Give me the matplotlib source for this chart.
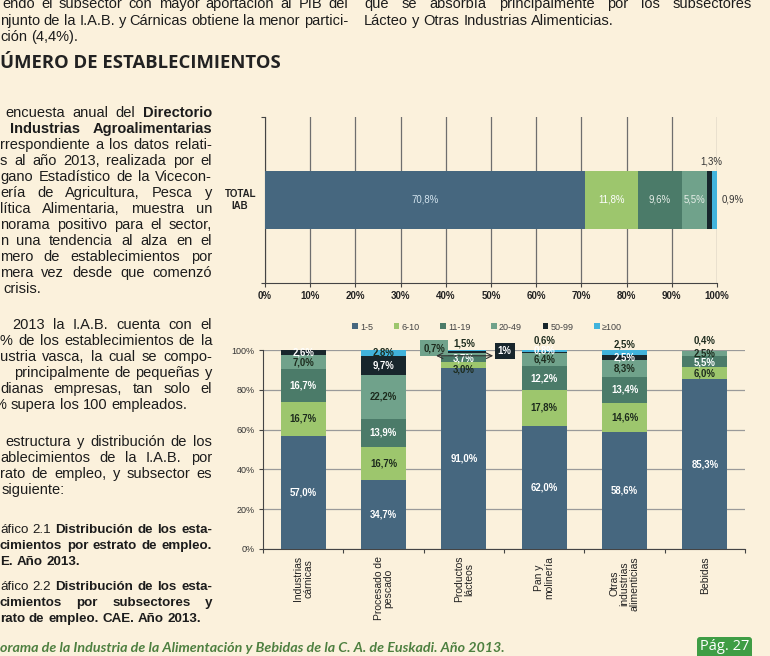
import os
import matplotlib
matplotlib.use('Agg')
import matplotlib.pyplot as plt
from matplotlib import font_manager as fm
from matplotlib.patches import FancyBboxPatch
import numpy as np

# ---------------- data ----------------
strata = ['1-5', '6-10', '11-19', '20-49', '50-99', '≥100']
total_iab = [70.8, 11.8, 9.6, 5.5, 1.3, 0.9]
subsectors = ['Industrias\ncárnicas', 'Procesado de\npescado', 'Productos\nlácteos',
              'Pan y\nmolinería', 'Otras\nindustrias\nalimenticias', 'Bebidas']
est_1_5 = [57.0, 34.7, 91.0, 62.0, 58.6, 85.3]
est_6_10 = [16.7, 16.7, 3.0, 17.8, 14.6, 6.0]
est_11_19 = [16.7, 13.9, 3.7, 12.2, 13.4, 5.5]
est_20_49 = [7.0, 22.2, 0.7, 6.4, 8.3, 2.5]
est_50_99 = [2.6, 9.7, 1.0, 0.8, 2.5, 0.0]
est_100 = [0.0, 2.8, 1.5, 0.6, 2.5, 0.4]
top_ticks = [0, 10, 20, 30, 40, 50, 60, 70, 80, 90, 100]
bottom_ticks = [0, 20, 40, 60, 80, 100]

# ---------------- style ----------------
colors = ['#46677f', '#9dc66d', '#4b7b69', '#70a28b', '#18262c', '#41b3dc']
BG = '#fbf1dc'
TXT = '#1c1c1c'
W, H = 770, 656
BODY = 'Liberation Sans'

_files = {os.path.basename(f).lower(): f for f in fm.findSystemFonts()}


def narrow(bold=False):
    name = 'liberationsansnarrow-bold.ttf' if bold else 'liberationsansnarrow-regular.ttf'
    p = _files.get(name)
    if p:
        return fm.FontProperties(fname=p), 1.0
    return fm.FontProperties(family=BODY, weight='bold' if bold else 'normal'), 0.93


NR, NR_S = narrow(False)
NB, NB_S = narrow(True)

fig = plt.figure(figsize=(W / 100, H / 100), dpi=100, facecolor=BG)
bg = fig.add_axes([0, 0, 1, 1], zorder=0)
bg.set_xlim(0, W)
bg.set_ylim(H, 0)
bg.axis('off')
renderer = fig.canvas.get_renderer()


def ax_rect(l, t, r, b):
    return [l / W, 1 - b / H, (r - l) / W, (b - t) / H]


def pct(v, dec=True):
    return (f'{v:.1f}' if dec else f'{v:g}').replace('.', ',') + '%'


def parse(markup):
    words = []
    for k, part in enumerate(markup.split('**')):
        for w in part.split():
            words.append((w, k % 2 == 1))
    return words


def draw_line(x0, yc, markup, right=None, size=10.5, family=BODY, color=TXT):
    base = yc + size * 0.42
    texts = []
    for w, b in parse(markup):
        texts.append(bg.text(0, base, w, fontsize=size, family=family,
                             fontweight='bold' if b else 'normal',
                             color=color, va='baseline', ha='left'))
    widths = [t.get_window_extent(renderer).width for t in texts]
    gap = size * 100 / 72 * 0.278
    if right is not None and len(texts) > 1:
        gap = max((right - x0 - sum(widths)) / (len(texts) - 1), 2.0)
    x = x0
    for t, w in zip(texts, widths):
        t.set_x(x)
        x += w + gap


def fit_text(x0, yc, s, width, **kw):
    t = bg.text(x0, yc, s, fontsize=12, va='center', ha='left', **kw)
    w = t.get_window_extent(renderer).width
    t.set_fontsize(12 * width / w)
    return t


# ---------------- page text ----------------
RIGHT = 212
draw_line(2, 3.5, 'endo el subsector con mayor aportación al PIB del', right=348)
draw_line(0, 20.5, 'njunto de la I.A.B. y Cárnicas obtiene la menor partici-', right=348)
draw_line(0, 36.5, 'ción (4,4%).')
draw_line(364, 3.5, 'que se absorbía principalmente por los subsectores', right=752)
draw_line(364, 20.5, 'Lácteo y Otras Industrias Alimenticias.')

fit_text(0, 63, 'ÚMERO DE ESTABLECIMIENTOS', 279, family='Open Sans',
         fontweight='bold', color='#222222')

body = [
    (5, 113, 'encuesta anual del **Directorio**', True),
    (10, 129, '**Industrias Agroalimentarias**', True),
    (0, 145, 'rrespondiente a los datos relati-', True),
    (0, 161, 's al año 2013, realizada por el', True),
    (0, 177, 'gano Estadístico de la Vicecon-', True),
    (0, 193, 'ería de Agricultura, Pesca y', True),
    (0, 209, 'lítica Alimentaria, muestra un', True),
    (0, 225, 'norama positivo para el sector,', True),
    (0, 241, 'n una tendencia al alza en el', True),
    (0, 257, 'mero de establecimientos por', True),
    (0, 273, 'mera vez desde que comenzó', True),
    (3, 289, 'crisis.', False),
    (12, 325, '2013 la I.A.B. cuenta con el', True),
    (0, 341, '% de los establecimientos de la', True),
    (0, 357, 'ustria vasca, la cual se compo-', True),
    (14, 373, 'principalmente de pequeñas y', True),
    (0, 389, 'dianas empresas, tan solo el', True),
    (-6, 405, '% supera los 100 empleados.', False),
    (5, 442, 'estructura y distribución de los', True),
    (0, 458, 'ablecimientos de la I.A.B. por', True),
    (0, 474, 'rato de empleo, y subsector es', True),
    (2, 490, 'siguiente:', False),
]
for x0, yc, s, just in body:
    draw_line(x0, yc, s, right=RIGHT if just else None)

captions = [
    (0, 529, 'áfico 2.1 **Distribución de los esta-**', True),
    (0, 545, '**cimientos por estrato de empleo.**', True),
    (0, 561, '**E. Año 2013.**', False),
    (0, 586, 'áfico 2.2 **Distribución de los esta-**', True),
    (0, 602, '**cimientos por subsectores y**', True),
    (0, 618, '**rato de empleo. CAE. Año 2013.**', False),
]
for x0, yc, s, just in captions:
    draw_line(x0, yc, s, right=RIGHT if just else None, size=9.6)

fit_text(0, 648, 'orama de la Industria de la Alimentación y Bebidas de la C. A. de Euskadi. Año 2013.',
         502, family='Lato', style='italic', fontweight='bold', color='#4e8040')

bg.add_patch(FancyBboxPatch((697, 637), 55, 26, boxstyle='round,pad=0,rounding_size=3',
                            fc='#3f9d45', ec='none'))
bg.text(724.5, 647, 'Pág. 27', fontsize=10.5, family='Open Sans', color='white',
        ha='center', va='center')

# ---------------- top chart: TOTAL IAB ----------------
ax1 = fig.add_axes(ax_rect(265, 117, 717, 283), zorder=2)
ax1.set_facecolor('none')
left = 0.0
top_lab_col = ['#d3e4ee', '#ffffff', '#e6eee8', '#e6eee8']
for i, v in enumerate(total_iab):
    ax1.barh(0, v, left=left, height=0.345, color=colors[i], zorder=3)
    c = left + v / 2
    kw = dict(fontproperties=NR, fontsize=7.5 * NR_S, zorder=4, va='center')
    if i < 4:
        ax1.text(c, 0, pct(v), ha='center', color=top_lab_col[i], **kw)
    elif i == 4:
        ax1.text(c + 0.5, 0.23, pct(v), ha='center', color='#333333', **kw)
    else:
        ax1.text(left + v + 1.2, 0, pct(v), ha='left', color='#333333', **kw)
    left += v
ax1.set_xlim(0, 100)
ax1.set_ylim(-0.5, 0.5)
ax1.set_xticks(top_ticks)
ax1.set_xticklabels([f'{t}%' for t in top_ticks], fontsize=7, fontweight='bold',
                    family=BODY, color='#222222')
ax1.set_yticks([-0.5, 0.5])
ax1.set_yticklabels([])
ax1.grid(axis='x', color='#6e6e6e', lw=0.9, zorder=1)
for s in ['top', 'right']:
    ax1.spines[s].set_visible(False)
for s in ['left', 'bottom']:
    ax1.spines[s].set_color('#444444')
ax1.tick_params(length=3, color='#444444', pad=3)
ax1.text(-0.055, 0.5, 'TOTAL\nIAB', transform=ax1.transAxes, ha='center', va='center',
         fontsize=7, fontweight='bold', family=BODY, color='#222222', linespacing=1.3)

# ---------------- bottom chart: subsectors ----------------
ax2 = fig.add_axes(ax_rect(263, 350, 745, 549), zorder=2)
ax2.set_facecolor('none')
series = [est_1_5, est_6_10, est_11_19, est_20_49, est_50_99, est_100]
xpos = np.arange(len(subsectors))
bottom = np.zeros(len(subsectors))
handles = []
lab_col = ['white', '#1d2b1d', 'white', '#1d2b1d', 'white', '#1d2b1d']
y_override = {(2, 1): 90.0, (2, 5): 103.3, (3, 4): 99.9, (3, 5): 104.8,
              (4, 5): 103.0, (5, 5): 104.6, (5, 3): 98.4, (5, 2): 93.7}
callouts = {(2, 3): (1.63, 101.0), (2, 4): (2.51, 99.6)}
for i, vals in enumerate(series):
    vals = np.array(vals)
    h = ax2.bar(xpos, vals, bottom=bottom, width=0.56, color=colors[i], zorder=3)
    handles.append(h)
    for j, v in enumerate(vals):
        if v <= 0:
            continue
        yc = bottom[j] + v / 2
        if (j, i) in callouts:
            cx, cy = callouts[(j, i)]
            ax2.text(cx, cy, pct(v, dec=False), ha='center', va='center',
                     fontproperties=NB, fontsize=7.5 * NB_S,
                     color='white' if i == 4 else '#1d2b1d', zorder=6,
                     bbox=dict(boxstyle='square,pad=0.3', fc=colors[i], ec='none'))
            continue
        yc = y_override.get((j, i), yc)
        ax2.text(j, yc, pct(v), ha='center', va='center', fontproperties=NB,
                 fontsize=7.5 * NB_S, color=lab_col[i], zorder=5)
    bottom += vals
ax2.annotate('', xy=(1.655, 97.1), xytext=(2.365, 97.1),
             arrowprops=dict(arrowstyle='<->', color='#333333', lw=0.8,
                             shrinkA=0, shrinkB=0), zorder=6)
ax2.set_xlim(-0.5, 5.5)
ax2.set_ylim(0, 100)
ax2.set_yticks(bottom_ticks)
ax2.set_yticklabels([f'{t}%' for t in bottom_ticks], fontproperties=NR,
                    fontsize=7.0 * NR_S, color='#333333')
ax2.set_xticks(np.arange(-0.5, 6, 1))
ax2.set_xticklabels([])
ax2.grid(axis='y', color='#9a9a9a', lw=0.9, zorder=1)
for s in ['top', 'right']:
    ax2.spines[s].set_visible(False)
for s in ['left', 'bottom']:
    ax2.spines[s].set_color('#444444')
ax2.tick_params(length=3, color='#444444', pad=3)
for j, name in enumerate(subsectors):
    ax2.text(j, -0.035, name, transform=ax2.get_xaxis_transform(), rotation=90,
             ha='center', va='top', multialignment='center', fontsize=7.5,
             family=BODY, color='#222222', linespacing=1.0)

leg_prop = NR.copy()
leg_prop.set_size(7.0 * NR_S)
fig.legend(handles, strata, loc='center', bbox_to_anchor=(487 / W, 1 - 327 / H),
           ncol=6, frameon=False, prop=leg_prop,
           labelcolor='#444444', handlelength=0.6, handleheight=0.6,
           handletextpad=0.25, columnspacing=2.3)

fig.savefig('out.png', dpi=100, facecolor=BG)
